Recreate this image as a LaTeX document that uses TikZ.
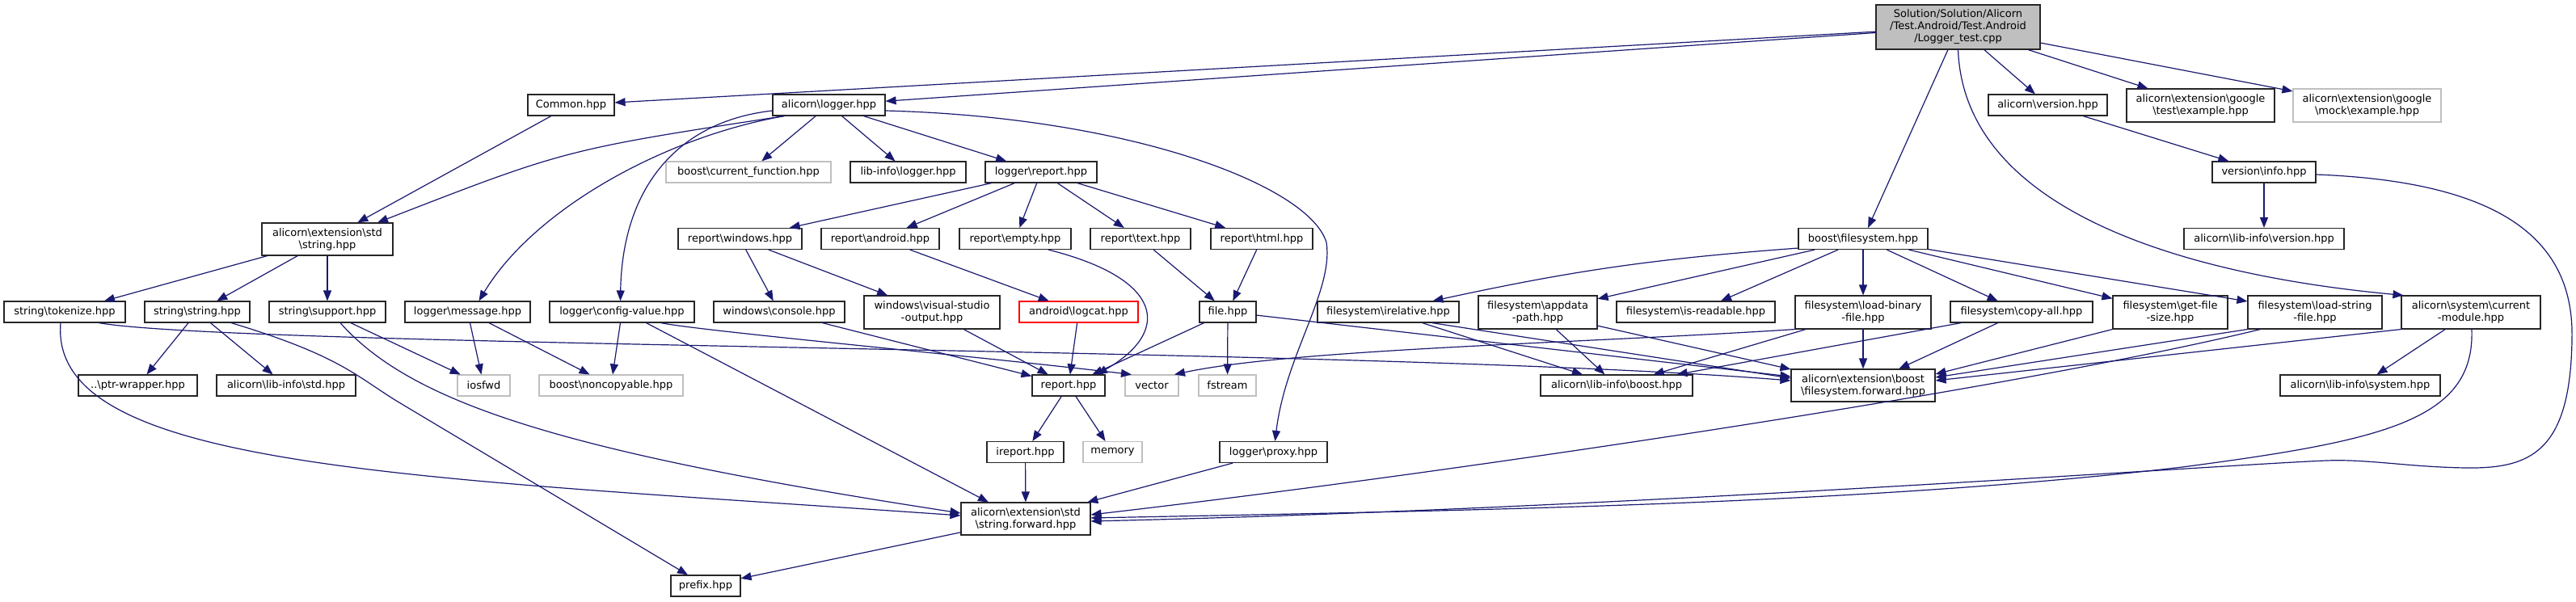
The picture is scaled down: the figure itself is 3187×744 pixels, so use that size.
\documentclass[tikz,border=0pt]{standalone}
\usepackage{fontspec}
\setmainfont{DejaVu Sans}
\usetikzlibrary{arrows.meta,calc}
\definecolor{edgec}{HTML}{191970}
\definecolor{lgray}{HTML}{BFBFBF}
\newcommand\bsl{\textbackslash}
\begin{document}
\begin{tikzpicture}[x=1pt,y=-1pt,
  box/.style={draw=black!85, line width=1.1pt, fill=white, rectangle, inner sep=0pt, align=center,
    font=\fontsize{13}{15}\selectfont},
  gbox/.style={box, draw=lgray},
  rbox/.style={box, draw=red},
  sz/.style 2 args={minimum width=#1pt, minimum height=#2pt},
  edge/.style={draw=edgec, line width=1.2pt, -{Triangle[length=13pt,width=10pt]}}]
\fill[white] (0,0) rectangle (3187,744);
\path[use as bounding box] (0,0) rectangle (3187,744);
% row 0
\node[box, fill=lgray, sz={203}{55}] (M) at (2422.5,33.5) {Solution/Solution/Alicorn\\/Test.Android/Test.Android\\/Logger\_test.cpp};
% row 1
\node[box, sz={107}{26}] (common) at (706.5,130) {Common.hpp};
\node[box, sz={139}{26}] (logger) at (1025.5,130) {alicorn\bsl logger.hpp};
\node[box, sz={147}{26}] (version) at (2533.5,130) {alicorn\bsl version.hpp};
\node[box, sz={183}{41}] (gtest) at (2722.5,130.5) {alicorn\bsl extension\bsl google\\\bsl test\bsl example.hpp};
\node[gbox, sz={183}{41}] (gmock) at (2928.5,130.5) {alicorn\bsl extension\bsl google\\\bsl mock\bsl example.hpp};
% row 2
\node[gbox, sz={204}{26}] (curfun) at (926,213) {boost\bsl current\_function.hpp};
\node[box, sz={143}{26}] (liblogger) at (1123.5,213) {lib-info\bsl logger.hpp};
\node[box, sz={138}{26}] (logreport) at (1288,213) {logger\bsl report.hpp};
\node[box, sz={128}{26}] (vinfo) at (2801,213) {version\bsl info.hpp};
% row 3
\node[box, sz={162}{40}] (stdstring) at (405,296) {alicorn\bsl extension\bsl std\\\bsl string.hpp};
\node[box, sz={153}{26}] (rwin) at (915.5,295.5) {report\bsl windows.hpp};
\node[box, sz={146}{26}] (randroid) at (1089,295.5) {report\bsl android.hpp};
\node[box, sz={138}{26}] (rempty) at (1256,295.5) {report\bsl empty.hpp};
\node[box, sz={124}{26}] (rtext) at (1411,295.5) {report\bsl text.hpp};
\node[box, sz={126}{26}] (rhtml) at (1561,295.5) {report\bsl html.hpp};
\node[box, sz={160}{26}] (bfs) at (2305,295.5) {boost\bsl filesystem.hpp};
\node[box, sz={198}{26}] (libver) at (2801,295.5) {alicorn\bsl lib-info\bsl version.hpp};
% row 4
\node[box, sz={150}{26}] (tokenize) at (80,386) {string\bsl tokenize.hpp};
\node[box, sz={130}{26}] (sstring) at (244,386) {string\bsl string.hpp};
\node[box, sz={144}{26}] (support) at (405,386) {string\bsl support.hpp};
\node[box, sz={155}{26}] (message) at (578.5,386) {logger\bsl message.hpp};
\node[box, sz={179}{26}] (config) at (769.5,386) {logger\bsl config-value.hpp};
\node[box, sz={162}{26}] (console) at (964,386) {windows\bsl console.hpp};
\node[box, sz={168}{41}] (vs) at (1153,386.5) {windows\bsl visual-studio\\-output.hpp};
\node[rbox, sz={147}{26}] (logcat) at (1334.5,386) {android\bsl logcat.hpp};
\node[box, sz={70}{26}] (file) at (1519,386) {file.hpp};
\node[box, sz={175}{26}] (irel) at (1717.5,386) {filesystem\bsl irelative.hpp};
\node[box, sz={147}{41}] (appdata) at (1902.5,386.5) {filesystem\bsl appdata\\-path.hpp};
\node[box, sz={196}{26}] (isread) at (2098,386) {filesystem\bsl is-readable.hpp};
\node[box, sz={168}{41}] (loadbin) at (2305,386.5) {filesystem\bsl load-binary\\-file.hpp};
\node[box, sz={176}{26}] (copyall) at (2501,386) {filesystem\bsl copy-all.hpp};
\node[box, sz={142}{41}] (getsize) at (2685,386.5) {filesystem\bsl get-file\\-size.hpp};
\node[box, sz={166}{41}] (loadstr) at (2864,386.5) {filesystem\bsl load-string\\-file.hpp};
\node[box, sz={172}{41}] (curmod) at (3057,386.5) {alicorn\bsl system\bsl current\\-module.hpp};
% row 5
\node[box, sz={147}{26}] (ptr) at (170.5,477) {..\bsl ptr-wrapper.hpp};
\node[box, sz={172}{26}] (libstd) at (354,477) {alicorn\bsl lib-info\bsl std.hpp};
\node[gbox, sz={65}{26}] (iosfwd) at (598.5,477) {iosfwd};
\node[gbox, sz={178}{26}] (noncopy) at (756,477) {boost\bsl noncopyable.hpp};
\node[box, sz={90}{26}] (report) at (1322,477) {report.hpp};
\node[gbox, sz={66}{26}] (vector) at (1425,477) {vector};
\node[gbox, sz={71}{26}] (fstream) at (1518.5,477) {fstream};
\node[box, sz={188}{26}] (libboost) at (2000,477) {alicorn\bsl lib-info\bsl boost.hpp};
\node[box, sz={178}{40}] (fsfwd) at (2305,477) {alicorn\bsl extension\bsl boost\\\bsl filesystem.forward.hpp};
\node[box, sz={198}{26}] (libsys) at (2920,477) {alicorn\bsl lib-info\bsl system.hpp};
% row 6
\node[box, sz={95}{26}] (ireport) at (1268.5,559.5) {ireport.hpp};
\node[gbox, sz={73}{26}] (memory) at (1376.5,559.5) {memory};
\node[box, sz={133}{26}] (proxy) at (1575.5,559.5) {logger\bsl proxy.hpp};
% rows 7-8
\node[box, sz={160}{40}] (strfwd) at (1269,642) {alicorn\bsl extension\bsl std\\\bsl string.forward.hpp};
\node[box, sz={86}{26}] (prefix) at (873,725) {prefix.hpp};

% edges from main
\draw[edge] (M) -- (common);
\draw[edge] (M) -- (logger);
\draw[edge] (M) -- (bfs);
\draw[edge] (M) -- (version);
\draw[edge] (M) -- (gtest);
\draw[edge] (M) -- (gmock);
\draw[edge] (M.south) .. controls (2430,260) and (2700,340) .. ($(curmod.north west)+(3,0)$);
% common / logger
\draw[edge] (common) -- (stdstring);
\draw[edge] ($(logger.south west)+(15,0)$) .. controls (700,185) .. ($(stdstring.north)+(62,0)$);
\draw[edge] ($(logger.south west)+(15,0)$) .. controls (820,170) and (660,260) .. ($(message.north)+(14,0)$);
\draw[edge] ($(logger.west)+(0,7)$) .. controls (840,150) and (770,230) .. ($(config.north)+(-2,0)$);
\draw[edge] (logger) -- (curfun);
\draw[edge] (logger) -- (liblogger);
\draw[edge] (logger) -- (logreport);
\draw[edge] ($(logger.east)+(0,7)$) .. controls (1400,145) and (1620,230) .. (1641,300) .. controls (1650,360) and (1590,440) .. ($(proxy.north)+(2,0)$);
% std string
\draw[edge] (stdstring) -- (tokenize);
\draw[edge] (stdstring) -- (sstring);
\draw[edge] (stdstring) -- (support);
% report tree
\draw[edge] (logreport) -- (rwin);
\draw[edge] (logreport) -- (randroid);
\draw[edge] (logreport) -- (rempty);
\draw[edge] (logreport) -- (rtext);
\draw[edge] (logreport) -- (rhtml);
\draw[edge] (rwin) -- (console);
\draw[edge] (rwin) -- (vs);
\draw[edge] (randroid) -- (logcat);
\draw[edge] ($(rempty.south)+(41,0)$) .. controls (1440,345) and (1450,410) .. ($(report.north)+(35,0)$);
\draw[edge] (rtext) -- (file);
\draw[edge] (rhtml) -- (file);
\draw[edge] (console) -- (report);
\draw[edge] (vs) -- (report);
\draw[edge] (logcat) -- (report);
\draw[edge] (file) -- (report);
\draw[edge] (file) -- (fstream);
\draw[edge] (file) -- ($(fsfwd.west)+(0,-11)$);
\draw[edge] (report) -- (ireport);
\draw[edge] (report) -- (memory);
\draw[edge] (ireport) -- (strfwd);
\draw[edge] (proxy) -- (strfwd);
\draw[edge] (strfwd) -- (prefix);
% string row
\draw[edge] ($(tokenize.south)+(42,0)$) .. controls (300,430) and (1700,430) .. ($(fsfwd.west)+(0,-6)$);
\draw[edge] ($(tokenize.south)+(-5,0)$) .. controls (60,580) and (500,590) .. ($(strfwd.west)+(0,-4)$);
\draw[edge] (sstring) -- (ptr);
\draw[edge] (sstring) -- (libstd);
\draw[edge] ($(sstring.south)+(42,0)$) .. controls (420,440) and (440,465) .. (492,497) -- ($(prefix.north)+(-22,0)$);
\draw[edge] (support) -- (iosfwd);
\draw[edge] ($(support.south)+(16,0)$) .. controls (510,500) and (700,560) .. ($(strfwd.west)+(0,-7)$);
\draw[edge] (message) -- (iosfwd);
\draw[edge] (message) -- (noncopy);
\draw[edge] (config) -- (noncopy);
\draw[edge] ($(config.south)+(48,0)$) .. controls (870,410) and (1200,440) .. ($(vector.north)+(-25,0)$);
\draw[edge] ($(config.south)+(30,0)$) -- ($(strfwd.north)+(-46,0)$);
% filesystem
\draw[edge] ($(bfs.south west)+(0,-2)$) to[bend right=4] ($(irel.north)+(55,0)$);
\draw[edge] (bfs) -- (appdata);
\draw[edge] (bfs) -- (isread);
\draw[edge] (bfs) -- (loadbin);
\draw[edge] (bfs) -- (copyall);
\draw[edge] (bfs) -- (getsize);
\draw[edge] (bfs) -- (loadstr);
\draw[edge] (irel) -- (libboost);
\draw[edge] ($(irel.south)+(54,0)$) -- ($(fsfwd.west)+(0,-9)$);
\draw[edge] (appdata) -- (libboost);
\draw[edge] (appdata) -- (fsfwd);
\draw[edge] (loadbin) -- (libboost);
\draw[edge] (loadbin) -- (fsfwd);
\draw[edge] (loadbin.south west) .. controls (1950,425) and (1600,432) .. ($(vector.north)+(28,0)$);
\draw[edge] (copyall) -- (libboost);
\draw[edge] (copyall) -- (fsfwd);
\draw[edge] (getsize.south west) -- ($(fsfwd.east)+(0,-14)$);
\draw[edge] (loadstr.south west) -- ($(fsfwd.east)+(0,-10)$);
\draw[edge] ($(loadstr.south west)+(16,0)$) .. controls (2500,480) and (1800,585) .. ($(strfwd.east)+(0,-5)$);
\draw[edge] (curmod.south west) -- ($(fsfwd.east)+(0,-6)$);
\draw[edge] (curmod) -- (libsys);
\draw[edge] ($(curmod.south)+(1,0)$) .. controls (3062,520) and (2950,545) .. (2700,578) .. controls (2300,625) and (1800,632) .. ($(strfwd.east)+(0,-1)$);
% version
\draw[edge] (version) -- (vinfo);
\draw[edge] (vinfo) -- (libver);
\draw[edge] ($(vinfo.east)+(0,3)$) .. controls (3100,225) and (3185,300) .. (3182,420) .. controls (3180,560) and (3130,580) .. (3051,579) .. controls (2980,578) and (2930,568) .. (2878,570) .. controls (2750,575) and (2000,630) .. ($(strfwd.east)+(0,3)$);
\end{tikzpicture}
\end{document}
